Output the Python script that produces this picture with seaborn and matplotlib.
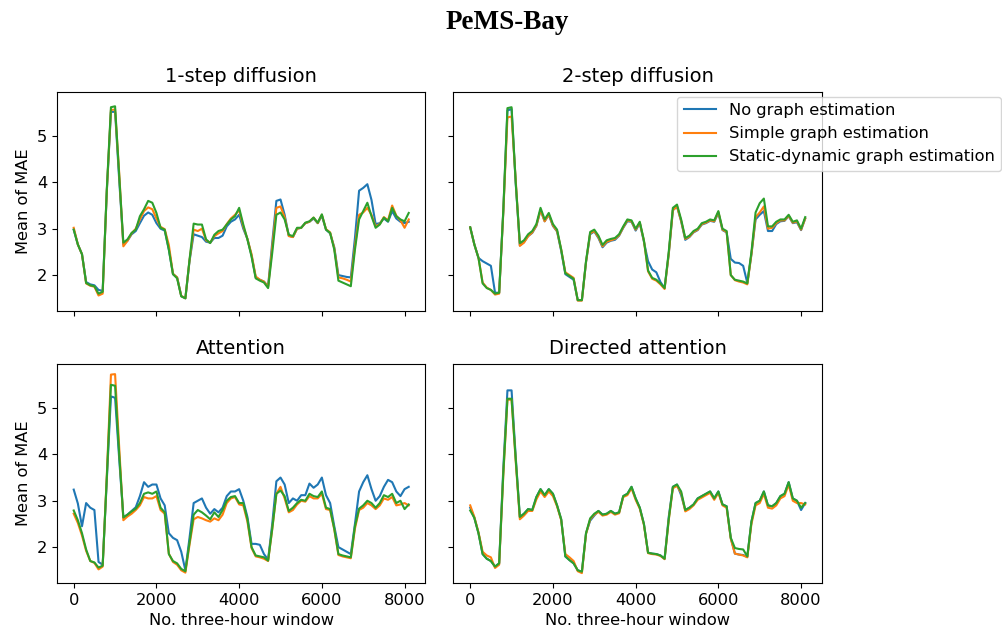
import numpy as np
import pandas as pd
import matplotlib
matplotlib.use("Agg")
import matplotlib.pyplot as plt
import seaborn as sns

# Index of the three-hour window (one sample every 100 windows)
windows = np.arange(0, 8200, 100)

methods = ["No graph estimation", "Simple graph estimation", "Static-dynamic graph estimation"]
panel_titles = ["1-step diffusion", "2-step diffusion", "Attention", "Directed attention"]

# ---- 1-step diffusion ----
diff1_none = [2.98, 2.66, 2.45, 1.85, 1.80, 1.78, 1.68, 1.66, 3.80, 5.52,
              5.52, 4.05, 2.66, 2.74, 2.88, 2.95, 3.12, 3.28, 3.35, 3.30,
              3.12, 3.00, 2.96, 2.55, 2.02, 1.95, 1.55, 1.50, 2.30, 2.88,
              2.85, 2.82, 2.72, 2.70, 2.80, 2.80, 2.85, 3.05, 3.15, 3.20,
              3.30, 3.00, 2.78, 2.42, 1.95, 1.90, 1.86, 1.76, 2.70, 3.60,
              3.63, 3.30, 2.85, 2.82, 3.00, 3.02, 3.12, 3.15, 3.22, 3.12,
              3.28, 2.98, 2.90, 2.60, 2.00, 1.98, 1.96, 1.95, 2.80, 3.82,
              3.88, 3.96, 3.62, 3.10, 3.12, 3.22, 3.15, 3.38, 3.22, 3.15,
              3.12, 3.15]
diff1_simple = [3.02, 2.66, 2.45, 1.82, 1.77, 1.75, 1.56, 1.60, 3.82, 5.56,
                5.57, 4.20, 2.62, 2.74, 2.90, 3.00, 3.20, 3.38, 3.46, 3.42,
                3.22, 3.04, 2.99, 2.65, 2.03, 1.95, 1.55, 1.50, 2.32, 2.98,
                2.95, 3.00, 2.75, 2.70, 2.84, 2.90, 2.95, 3.10, 3.22, 3.30,
                3.40, 3.05, 2.78, 2.45, 1.97, 1.90, 1.86, 1.74, 2.60, 3.45,
                3.48, 3.25, 2.84, 2.82, 3.00, 3.02, 3.12, 3.15, 3.24, 3.12,
                3.30, 2.99, 2.92, 2.58, 1.95, 1.93, 1.90, 1.86, 2.62, 3.30,
                3.35, 3.45, 3.30, 3.05, 3.10, 3.25, 3.18, 3.50, 3.28, 3.18,
                3.02, 3.20]
diff1_static = [2.98, 2.66, 2.45, 1.83, 1.78, 1.76, 1.60, 1.64, 3.85, 5.62,
                5.64, 4.14, 2.70, 2.77, 2.91, 2.98, 3.27, 3.42, 3.60, 3.56,
                3.34, 3.02, 2.98, 2.55, 2.02, 1.93, 1.54, 1.50, 2.33, 3.11,
                3.09, 3.09, 2.77, 2.69, 2.87, 2.95, 2.98, 3.09, 3.20, 3.27,
                3.45, 3.09, 2.77, 2.40, 1.93, 1.88, 1.84, 1.72, 2.48, 3.30,
                3.35, 3.20, 2.87, 2.84, 3.02, 3.02, 3.13, 3.16, 3.24, 3.13,
                3.31, 2.98, 2.91, 2.55, 1.88, 1.84, 1.80, 1.76, 2.55, 3.20,
                3.38, 3.56, 3.27, 3.02, 3.09, 3.24, 3.16, 3.45, 3.27, 3.20,
                3.16, 3.34]

# ---- 2-step diffusion ----
diff2_none = [3.03, 2.66, 2.37, 2.30, 2.25, 2.20, 1.62, 1.62, 3.38, 5.55,
              5.58, 3.98, 2.64, 2.71, 2.84, 2.91, 3.06, 3.40, 3.16, 3.30,
              3.06, 2.94, 2.52, 2.02, 1.96, 1.90, 1.46, 1.46, 2.28, 2.88,
              2.94, 2.80, 2.60, 2.70, 2.74, 2.76, 2.85, 3.02, 3.16, 3.15,
              2.96, 3.12, 2.72, 2.30, 2.12, 2.06, 1.85, 1.72, 2.45, 3.40,
              3.48, 3.16, 2.76, 2.82, 2.92, 2.97, 3.09, 3.12, 3.17, 3.15,
              3.34, 2.97, 2.92, 2.35, 2.27, 2.26, 2.20, 1.83, 2.45, 3.20,
              3.30, 3.38, 2.95, 2.95, 3.10, 3.16, 3.17, 3.27, 3.12, 3.14,
              2.97, 3.22]
diff2_simple = [3.03, 2.66, 2.37, 1.84, 1.73, 1.68, 1.58, 1.60, 3.35, 5.40,
                5.42, 4.05, 2.63, 2.70, 2.84, 2.92, 3.07, 3.40, 3.16, 3.31,
                3.07, 2.95, 2.55, 2.06, 2.00, 1.94, 1.45, 1.45, 2.28, 2.90,
                2.95, 2.82, 2.62, 2.72, 2.75, 2.78, 2.86, 3.03, 3.18, 3.16,
                2.98, 3.13, 2.74, 2.08, 1.92, 1.88, 1.80, 1.70, 2.45, 3.40,
                3.48, 3.17, 2.78, 2.83, 2.93, 2.98, 3.10, 3.13, 3.18, 3.16,
                3.36, 2.98, 2.93, 2.00, 1.89, 1.86, 1.84, 1.80, 2.45, 3.25,
                3.35, 3.48, 3.00, 3.02, 3.12, 3.18, 3.18, 3.28, 3.13, 3.16,
                2.98, 3.22]
diff2_static = [3.03, 2.66, 2.37, 1.82, 1.72, 1.68, 1.60, 1.62, 3.40, 5.60,
                5.62, 4.00, 2.69, 2.75, 2.88, 2.95, 3.10, 3.45, 3.20, 3.34,
                3.10, 2.98, 2.55, 2.04, 1.98, 1.92, 1.46, 1.46, 2.30, 2.93,
                2.98, 2.85, 2.65, 2.75, 2.78, 2.80, 2.88, 3.05, 3.20, 3.18,
                3.00, 3.15, 2.75, 2.10, 1.94, 1.90, 1.82, 1.72, 2.50, 3.45,
                3.52, 3.20, 2.80, 2.85, 2.95, 3.00, 3.12, 3.15, 3.20, 3.18,
                3.38, 3.00, 2.95, 2.00, 1.90, 1.88, 1.86, 1.82, 2.50, 3.35,
                3.55, 3.65, 3.05, 3.05, 3.15, 3.20, 3.20, 3.30, 3.15, 3.18,
                3.00, 3.25]

# ---- Attention ----
attn_none = [3.24, 2.94, 2.45, 2.95, 2.85, 2.80, 1.68, 1.62, 3.45, 5.25,
             5.22, 3.90, 2.64, 2.70, 2.78, 2.86, 3.10, 3.40, 3.30, 3.35,
             3.35, 3.05, 2.90, 2.30, 2.20, 2.15, 1.90, 1.50, 2.20, 2.95,
             3.00, 3.05, 2.85, 2.72, 2.82, 2.75, 2.85, 3.10, 3.20, 3.20,
             3.25, 3.00, 2.65, 2.07, 2.07, 2.05, 1.85, 1.73, 2.50, 3.42,
             3.50, 3.35, 2.95, 3.05, 3.00, 3.12, 3.12, 3.37, 3.28, 3.35,
             3.50, 3.12, 2.95, 2.45, 2.00, 1.95, 1.90, 1.85, 2.50, 3.20,
             3.40, 3.55, 3.25, 3.00, 3.10, 3.30, 3.45, 3.40, 3.20, 3.10,
             3.25, 3.30]
attn_simple = [2.72, 2.52, 2.25, 1.92, 1.70, 1.66, 1.52, 1.58, 3.55, 5.72,
               5.73, 4.15, 2.58, 2.66, 2.72, 2.80, 2.90, 3.08, 3.05, 3.05,
               3.10, 2.80, 2.72, 1.86, 1.68, 1.62, 1.50, 1.45, 2.05, 2.60,
               2.65, 2.62, 2.58, 2.55, 2.62, 2.58, 2.70, 2.95, 3.05, 3.08,
               2.92, 2.90, 2.55, 1.98, 1.80, 1.78, 1.75, 1.70, 2.38, 3.15,
               3.30, 3.05, 2.75, 2.80, 2.92, 3.00, 2.98, 3.10, 3.05, 3.05,
               3.15, 2.82, 2.80, 2.38, 1.83, 1.80, 1.78, 1.76, 2.40, 2.80,
               2.85, 2.95, 2.90, 2.82, 2.90, 3.05, 3.02, 3.08, 2.90, 2.92,
               2.95, 2.90]
attn_static = [2.79, 2.58, 2.30, 1.95, 1.70, 1.67, 1.56, 1.60, 3.50, 5.50,
               5.48, 4.00, 2.64, 2.70, 2.77, 2.83, 2.95, 3.15, 3.18, 3.15,
               3.20, 2.85, 2.75, 1.85, 1.70, 1.65, 1.53, 1.48, 2.10, 2.70,
               2.80, 2.75, 2.68, 2.60, 2.75, 2.65, 2.80, 3.00, 3.08, 3.10,
               2.95, 2.95, 2.60, 2.00, 1.82, 1.80, 1.78, 1.71, 2.40, 3.15,
               3.22, 3.10, 2.78, 2.85, 2.95, 3.02, 3.00, 3.15, 3.10, 3.08,
               3.20, 2.85, 2.82, 2.40, 1.85, 1.82, 1.80, 1.78, 2.45, 2.83,
               2.90, 3.00, 2.95, 2.85, 2.95, 3.12, 3.08, 3.15, 2.95, 3.00,
               2.82, 2.92]

# ---- Directed attention ----
dattn_none = [2.85, 2.63, 2.30, 1.85, 1.75, 1.70, 1.58, 1.65, 3.70, 5.38,
              5.38, 3.95, 2.65, 2.72, 2.82, 2.80, 3.08, 3.25, 3.12, 3.25,
              3.15, 2.90, 2.60, 1.80, 1.72, 1.65, 1.50, 1.47, 2.30, 2.57,
              2.68, 2.78, 2.70, 2.72, 2.78, 2.72, 2.75, 3.10, 3.15, 3.30,
              3.05, 2.85, 2.50, 1.88, 1.86, 1.85, 1.82, 1.75, 2.65, 3.30,
              3.35, 3.12, 2.80, 2.85, 2.92, 3.05, 3.10, 3.15, 3.20, 3.05,
              3.20, 2.92, 2.88, 2.20, 1.86, 1.84, 1.83, 1.79, 2.55, 2.95,
              3.00, 3.20, 2.90, 2.88, 2.95, 3.10, 3.15, 3.40, 3.05, 3.00,
              2.80, 2.95]
dattn_simple = [2.90, 2.65, 2.32, 1.90, 1.82, 1.78, 1.55, 1.62, 3.55, 5.18,
                5.18, 3.85, 2.60, 2.68, 2.78, 2.78, 3.03, 3.20, 3.08, 3.20,
                3.10, 2.88, 2.58, 1.85, 1.78, 1.70, 1.48, 1.44, 2.28, 2.60,
                2.70, 2.76, 2.68, 2.70, 2.76, 2.70, 2.73, 3.08, 3.12, 3.27,
                3.02, 2.83, 2.48, 1.87, 1.85, 1.84, 1.81, 1.74, 2.58, 3.27,
                3.32, 3.17, 2.77, 2.82, 2.90, 3.02, 3.07, 3.12, 3.17, 3.02,
                3.17, 2.90, 2.85, 2.18, 1.86, 1.84, 1.82, 1.78, 2.50, 2.90,
                2.95, 3.15, 2.85, 2.83, 2.90, 3.05, 3.10, 3.35, 3.00, 2.95,
                2.95, 2.92]
dattn_static = [2.79, 2.63, 2.30, 1.85, 1.75, 1.70, 1.58, 1.65, 3.60, 5.20,
                5.20, 3.90, 2.65, 2.72, 2.82, 2.80, 3.08, 3.25, 3.12, 3.25,
                3.15, 2.90, 2.60, 1.80, 1.72, 1.65, 1.50, 1.47, 2.30, 2.62,
                2.72, 2.78, 2.70, 2.72, 2.78, 2.72, 2.75, 3.10, 3.15, 3.30,
                3.05, 2.85, 2.50, 1.88, 1.86, 1.85, 1.82, 1.75, 2.60, 3.30,
                3.35, 3.20, 2.80, 2.85, 2.92, 3.05, 3.10, 3.15, 3.20, 3.05,
                3.20, 2.92, 2.88, 2.20, 1.98, 1.96, 1.95, 1.80, 2.55, 2.95,
                3.00, 3.20, 2.90, 2.88, 2.95, 3.10, 3.15, 3.40, 3.05, 3.00,
                2.85, 2.95]

panels = [
    (diff1_none, diff1_simple, diff1_static),
    (diff2_none, diff2_simple, diff2_static),
    (attn_none, attn_simple, attn_static),
    (dattn_none, dattn_simple, dattn_static),
]

palette = dict(zip(methods, sns.color_palette("tab10", 3)))

fig, axes = plt.subplots(2, 2, figsize=(10.03, 6.4), dpi=100, sharex=True, sharey=True)
fig.subplots_adjust(left=0.0568, right=0.8195, top=0.856, bottom=0.089,
                    wspace=0.076, hspace=0.243)

for idx, (ax, title, series) in enumerate(zip(axes.flat, panel_titles, panels)):
    df = pd.DataFrame({
        "window": np.tile(windows, len(methods)),
        "mae": np.concatenate([np.asarray(s, dtype=float) for s in series]),
        "method": np.repeat(methods, len(windows)),
    })
    sns.lineplot(data=df, x="window", y="mae", hue="method", hue_order=methods,
                 palette=palette, linewidth=1.5, estimator=None, legend=False, ax=ax)
    ax.set_title(title, fontsize=14, pad=7)
    ax.tick_params(labelsize=11.7)
    row, col = divmod(idx, 2)
    ax.set_xlabel("No. three-hour window" if row == 1 else "", fontsize=11.7)
    ax.set_ylabel("Mean of MAE" if col == 0 else "", fontsize=11.7)

handles = axes[0, 1].get_lines()[:3]
fig.legend(handles, methods, loc="upper right", bbox_to_anchor=(0.9985, 0.849),
           borderaxespad=0, fontsize=11.7)

fig.text(0.506, 0.965, "PeMS-Bay", ha="center", va="center",
         fontsize=19.5, fontweight="bold", family="Liberation Serif")

fig.savefig("out.png", dpi=100)
